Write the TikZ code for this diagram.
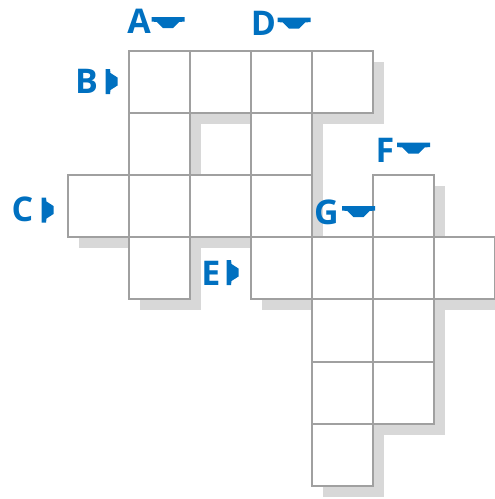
\documentclass[tikz,border=0pt]{standalone}
\usepackage{fontspec}
\setmainfont{Open Sans}
\definecolor{lblue}{RGB}{0,112,192}
\definecolor{gline}{RGB}{160,160,160}
\definecolor{shade}{RGB}{216,216,216}
\begin{document}
\begin{tikzpicture}[x=1pt,y=-1pt,
  cellbase/.style={minimum width=61pt,minimum height=62.1pt,inner sep=0pt,outer sep=0pt},
  cell/.style={cellbase,draw=gline,line width=2pt},
  cellfill/.style={cellbase,fill=white},
  shadowcell/.style={cellbase,fill=shade},
  lbl/.style={text=lblue,font=\fontsize{34}{34}\selectfont\bfseries,inner sep=0pt,anchor=base},
  downarr/.pic={\fill[lblue] (-16.5,-5.5) -- (16.5,-5.5) -- (16.5,-1) -- (11,-0.5) -- (5,5.5) -- (-5,5.5) -- (-11,-0.5) -- (-16.5,-1) -- cycle;},
  rightarr/.pic={\fill[lblue] (-6,-12.5) -- (-1.5,-12.5) -- (-1,-8.5) -- (6,-4) -- (6,4) -- (-1,8.5) -- (-1.5,12.5) -- (-6,12.5) -- cycle;}
]
\useasboundingbox (0,0) rectangle (495,499);
\def\cellsList{1/0,2/0,3/0,4/0,1/1,3/1,0/2,1/2,2/2,3/2,5/2,1/3,3/3,4/3,5/3,6/3,4/4,5/4,4/5,5/5,4/6}
% shadows
\foreach \c/\r in \cellsList {
  \node[shadowcell] (s-\c-\r) at ({67.5+61*\c+30.5+11},{51+62.1*\r+31.05+11}) {};
}
% cell fills
\foreach \c/\r in \cellsList {
  \node[cellfill] (f-\c-\r) at ({67.5+61*\c+30.5},{51+62.1*\r+31.05}) {};
}
% cell borders
\foreach \c/\r in \cellsList {
  \node[cell] (c-\c-\r) at ({67.5+61*\c+30.5},{51+62.1*\r+31.05}) {};
}
% labels
\node[lbl] (lA) at (139,33.5) {A};
\node[lbl] (lB) at (86.5,93) {B};
\node[lbl] (lC) at (22.5,221.5) {C};
\node[lbl] (lD) at (263.5,35) {D};
\node[lbl] (lE) at (211,285) {E};
\node[lbl] (lF) at (385,162) {F};
\node[lbl] (lG) at (326.5,224) {G};
% arrows
\pic at (168,22.5) {downarr};
\pic at (294,23) {downarr};
\pic at (413.5,148) {downarr};
\pic at (358.5,211.5) {downarr};
\pic at (111.5,81.5) {rightarr};
\pic at (47.5,210) {rightarr};
\pic at (232.5,272.5) {rightarr};
\end{tikzpicture}
\end{document}
